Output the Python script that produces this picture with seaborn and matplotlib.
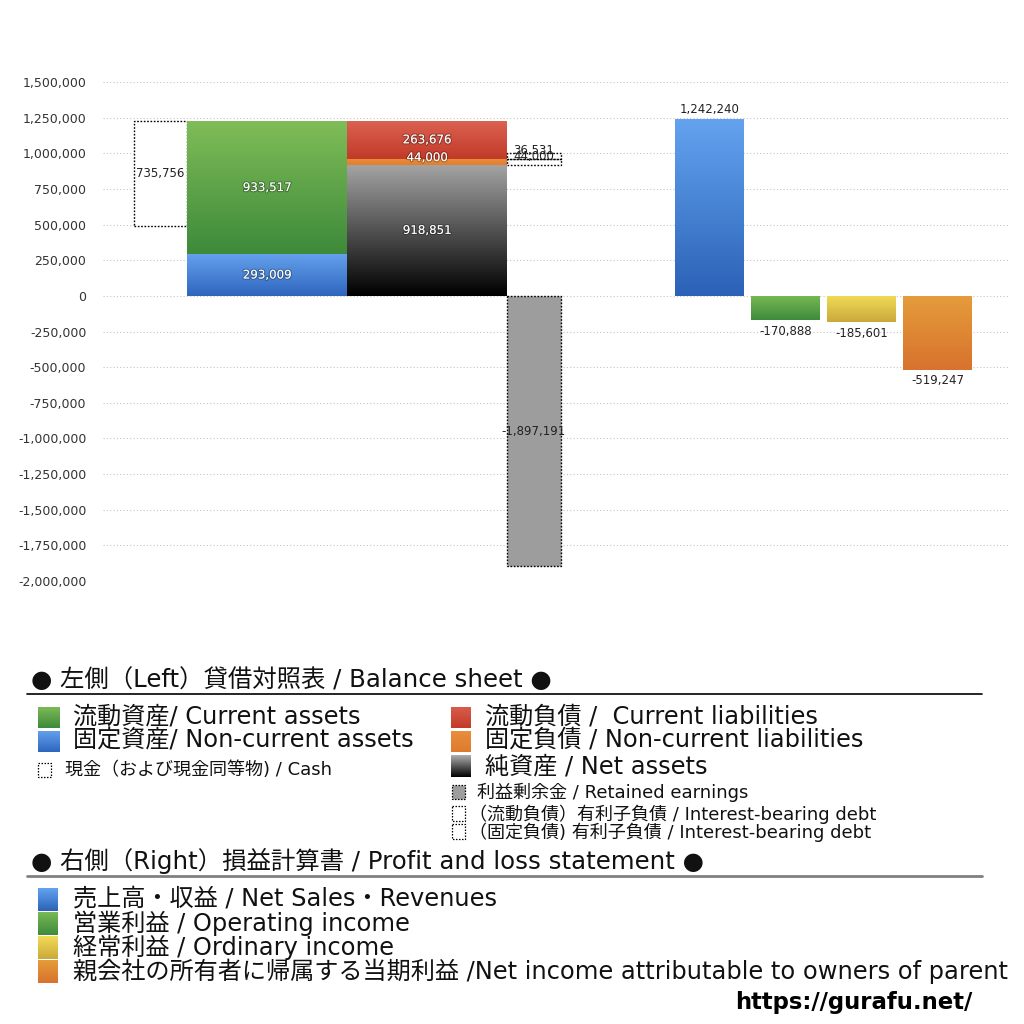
import numpy as np
import matplotlib
matplotlib.use("Agg")
import matplotlib.pyplot as plt
import matplotlib.patheffects as pe
from matplotlib.patches import Rectangle
from matplotlib.colors import to_rgb
import seaborn as sns

# ---------------- data ----------------
cash = 735756
current_assets = 933517
noncurrent_assets = 293009
current_liabilities = 263676
noncurrent_liabilities = 44000
net_assets = 918851
retained_earnings = -1897191
ibd_current = 36531
ibd_noncurrent = 44000

pl_labels = ["売上高・収益", "営業利益", "経常利益", "親会社の所有者に帰属する当期利益"]
pl_values = [1242240, -170888, -185601, -519247]

yticks = list(range(-2000000, 1500001, 250000))

# ---------------- style ----------------
sns.set_theme(style="white")
plt.rcParams["font.family"] = ["DejaVu Sans", "Noto Sans CJK JP"]

fig = plt.figure(figsize=(10.24, 10.24), dpi=100)
ax = fig.add_axes([103 / 1024, 1 - 581 / 1024, 905 / 1024, 499 / 1024])

# layout (slot centres / widths in axis units)
X_CASH, W_CASH = 57.5, 53
X_ASSET, W_ASSET = 164, 160
X_LIAB, W_LIAB = 324, 160
X_SIDE, W_SIDE = 431, 54
X_PL = [606.5, 682.5, 758.5, 834.5]
W_PL = 69


def grad_img(c_top, c_bot, n=128):
    t = np.linspace(0, 1, n)[:, None, None]
    a = np.array(to_rgb(c_top))[None, None, :]
    b = np.array(to_rgb(c_bot))[None, None, :]
    return a * (1 - t) + b * t


def grad_bar(ax, x, h, w, bottom, c_top, c_bot):
    bar = ax.bar(x, h, w, bottom=bottom, color="none", edgecolor="none", linewidth=0, zorder=2)[0]
    y0, y1 = min(bottom, bottom + h), max(bottom, bottom + h)
    im = ax.imshow(grad_img(c_top, c_bot), extent=(x - w / 2, x + w / 2, y0, y1),
                   origin="upper", aspect="auto", interpolation="bilinear", zorder=2)
    im.set_clip_path(bar)
    return bar


DOT = (0, (1.2, 1.2))
shadow = [pe.withStroke(linewidth=1.6, foreground=(0, 0, 0, 0.28))]


def wlabel(x, y, v, color="white", effects=shadow, dy=0):
    ax.annotate(f"{v:,}", (x, y), xytext=(0, dy), textcoords="offset points",
                ha="center", va="center", fontsize=8.5, color=color,
                path_effects=effects if effects else None, zorder=5)


total_assets = current_assets + noncurrent_assets

# cash box
ax.bar(X_CASH, cash, W_CASH, bottom=total_assets - cash, facecolor="white",
       edgecolor="black", linestyle=DOT, linewidth=1, zorder=2)
wlabel(X_CASH, total_assets - cash / 2, cash, color="#222222", effects=None)

# assets
grad_bar(ax, X_ASSET, noncurrent_assets, W_ASSET, 0, "#64a0ec", "#2e66be")
grad_bar(ax, X_ASSET, current_assets, W_ASSET, noncurrent_assets, "#80bd58", "#3d8a3a")
wlabel(X_ASSET, noncurrent_assets / 2, noncurrent_assets)
wlabel(X_ASSET, noncurrent_assets + current_assets / 2, current_assets)

# liabilities + net assets
grad_bar(ax, X_LIAB, net_assets, W_LIAB, 0, "#a4a4a4", "#000000")
grad_bar(ax, X_LIAB, noncurrent_liabilities, W_LIAB, net_assets, "#ec8f3c", "#e07e2e")
grad_bar(ax, X_LIAB, current_liabilities, W_LIAB, net_assets + noncurrent_liabilities,
         "#db6150", "#c23a28")
wlabel(X_LIAB, net_assets / 2, net_assets)
wlabel(X_LIAB, net_assets + noncurrent_liabilities / 2, noncurrent_liabilities, dy=3)
wlabel(X_LIAB, net_assets + noncurrent_liabilities + current_liabilities / 2, current_liabilities)

# interest-bearing debt boxes
ax.bar(X_SIDE, ibd_noncurrent, W_SIDE, bottom=net_assets, facecolor="none",
       edgecolor="black", linestyle=DOT, linewidth=1, zorder=3)
ax.bar(X_SIDE, ibd_current, W_SIDE, bottom=net_assets + ibd_noncurrent, facecolor="none",
       edgecolor="black", linestyle=DOT, linewidth=1, zorder=3)
wlabel(X_SIDE, net_assets + ibd_noncurrent + ibd_current / 2, ibd_current,
       color="#222222", effects=None, dy=4)
wlabel(X_SIDE, net_assets + ibd_noncurrent / 2, ibd_noncurrent,
       color="#222222", effects=None, dy=4)

# retained earnings
ax.bar(X_SIDE, retained_earnings, W_SIDE, bottom=0, facecolor="#9d9d9d",
       edgecolor="black", linestyle=DOT, linewidth=1, zorder=2)
wlabel(X_SIDE, retained_earnings / 2, retained_earnings, color="#222222", effects=None)

# P&L bars
pl_colors = [("#64a3f0", "#2b62b7"), ("#78b954", "#3f8b3b"),
             ("#f2dc56", "#c9a93c"), ("#e59c3b", "#d8722e")]
for x, v, (ct, cb) in zip(X_PL, pl_values, pl_colors):
    grad_bar(ax, x, v, W_PL, 0, ct, cb)
    ax.annotate(f"{v:,}", (x, v), xytext=(0, 7 if v > 0 else -8), textcoords="offset points",
                ha="center", va="center", fontsize=8.5, color="#222222", zorder=5)

ax.set_xlim(0, 905)
ax.set_ylim(-2000000, 1500000)
ax.set_yticks(yticks)
ax.set_yticklabels([f"{t:,}" for t in yticks], fontsize=9, color="#333333")
ax.set_xticks([])
ax.tick_params(axis="y", length=0, pad=12)
ax.grid(axis="y", color="#c4c4c4", linestyle=(0, (1, 2)), linewidth=0.8, zorder=0)
ax.set_axisbelow(True)
sns.despine(ax=ax, left=True, bottom=True, top=True, right=True)
ax.patch.set_alpha(0)

# ---------------- legend (pixel coordinates) ----------------
lg = fig.add_axes([0, 0, 1, 1], zorder=-1)
lg.set_xlim(0, 1024)
lg.set_ylim(1024, 0)
lg.axis("off")


def sq_grad(x0, y0, w, h, c_top, c_bot):
    lg.imshow(grad_img(c_top, c_bot), extent=(x0, x0 + w, y0 + h, y0), origin="upper",
              aspect="auto", interpolation="bilinear")


def sq_dot(x0, y0, w, h, fc="white"):
    lg.add_patch(Rectangle((x0, y0), w, h, facecolor=fc, edgecolor="black",
                           linestyle=DOT, linewidth=0.9))


def txt(x, y, s, size, **kw):
    lg.text(x, y, s, fontsize=size, ha="left", va="center", color="#111111", **kw)


BIG, HEAD, SMALL = 17.4, 17.6, 13

txt(31, 680, "● 左側（Left）貸借対照表 / Balance sheet ●", HEAD)
lg.plot([27, 982], [694, 694], color="black", linewidth=1.2)

sq_grad(38, 707, 22, 21, "#7cba56", "#3d8a3a")
txt(73, 717, "流動資産/ Current assets", BIG)
sq_grad(38, 731, 22, 21, "#63a0ec", "#2e66be")
txt(73, 741, "固定資産/ Non-current assets", BIG)
sq_dot(38, 763, 13, 14)
txt(65, 770, "現金（および現金同等物) / Cash", SMALL)

sq_grad(451, 707, 20, 21, "#d95c4b", "#c23a28")
txt(485, 717, "流動負債 /  Current liabilities", BIG)
sq_grad(451, 731, 20, 21, "#ea8e3c", "#dd7a2e")
txt(485, 741, "固定負債 / Non-current liabilities", BIG)
sq_grad(451, 755, 20, 22, "#b0b0b0", "#000000")
txt(485, 766, "純資産 / Net assets", BIG)
sq_dot(452, 785, 13, 14, fc="#9d9d9d")
txt(477, 792, "利益剰余金 / Retained earnings", SMALL)
sq_dot(452, 806, 13, 15)
txt(469, 814, "（流動負債）有利子負債 / Interest-bearing debt", SMALL)
sq_dot(452, 824, 13, 15)
txt(469, 832, "（固定負債) 有利子負債 / Interest-bearing debt", SMALL)

txt(31, 861, "● 右側（Right）損益計算書 / Profit and loss statement ●", HEAD)
lg.plot([27, 982], [876, 876], color="#808080", linewidth=2)

pl_legend = [pl_labels[0] + " / Net Sales・Revenues",
             pl_labels[1] + " / Operating income",
             pl_labels[2] + " / Ordinary income",
             pl_labels[3] + " /Net income attributable to owners of parent"]
for i, (s, (ct, cb)) in enumerate(zip(pl_legend, pl_colors)):
    y = 899 + 24 * i
    sq_grad(38, y - 11, 20, 23, ct, cb)
    txt(73, y, s, BIG)

lg.text(972, 1002, "https://gurafu.net/", fontsize=16.4, fontweight="bold",
        ha="right", va="center", color="black")

fig.savefig("out.png", dpi=100)
